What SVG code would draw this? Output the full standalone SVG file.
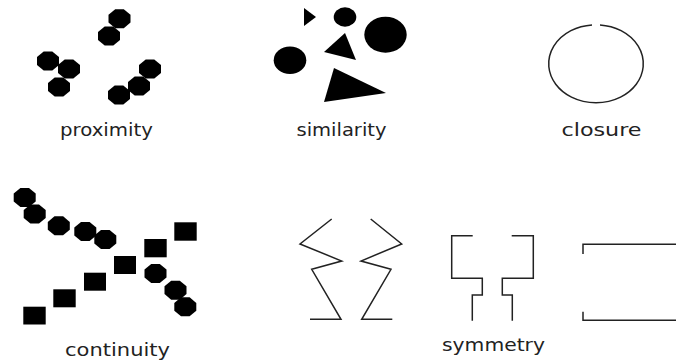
<svg xmlns="http://www.w3.org/2000/svg" xmlns:xlink="http://www.w3.org/1999/xlink" width="676" height="364" viewBox="0 0 676 364">
<style>
.lbl{font-family:"DejaVu Sans","Liberation Sans",sans-serif;font-size:17px;fill:#222;text-anchor:start}
.ln{fill:none;stroke:#222;stroke-width:1.5;stroke-linejoin:miter}
.blk{fill:#000}
</style>
<defs>
<path id="oct" d="M-4.3,-9.5 L4.3,-9.5 L11,-3.9 L11,3.9 L4.3,9.5 L-4.3,9.5 L-11,3.9 L-11,-3.9 Z" fill="#000"/>
</defs>
<rect width="676" height="364" fill="#fff"/>
<g id="proximity">
<use xlink:href="#oct" x="119.5" y="18.7"/>
<use xlink:href="#oct" x="109" y="36"/>
<use xlink:href="#oct" x="48" y="61"/>
<use xlink:href="#oct" x="69" y="69"/>
<use xlink:href="#oct" x="59" y="87"/>
<use xlink:href="#oct" x="150" y="69"/>
<use xlink:href="#oct" x="139" y="86"/>
<use xlink:href="#oct" x="119" y="95"/>
<text class="lbl" x="60" y="136" textLength="93" lengthAdjust="spacingAndGlyphs">proximity</text>
</g>
<g id="similarity">
<polygon class="blk" points="304,8 304,26 316,17"/>
<ellipse class="blk" cx="345" cy="17" rx="11.3" ry="9.7"/>
<ellipse class="blk" cx="385.5" cy="34.7" rx="21.2" ry="18"/>
<polygon class="blk" points="345,33 324,52 356,60"/>
<ellipse class="blk" cx="290" cy="60.3" rx="16.3" ry="13.7"/>
<polygon class="blk" points="334,68 324,102 386,93"/>
<text class="lbl" x="296.5" y="136" textLength="90" lengthAdjust="spacingAndGlyphs">similarity</text>
</g>
<g id="closure">
<path class="ln" d="M600,24.9 A47.3,39 0 1,1 592,24.9" stroke-width="1.3"/>
<text class="lbl" x="561.5" y="136" textLength="80" lengthAdjust="spacingAndGlyphs">closure</text>
</g>
<g id="continuity">
<use xlink:href="#oct" x="24.7" y="197.5"/>
<use xlink:href="#oct" x="34.7" y="214"/>
<use xlink:href="#oct" x="58.8" y="225.8"/>
<use xlink:href="#oct" x="85.3" y="231.5"/>
<use xlink:href="#oct" x="105.3" y="239.5"/>
<use xlink:href="#oct" x="155.5" y="273.5"/>
<use xlink:href="#oct" x="175.5" y="290.2"/>
<use xlink:href="#oct" x="185.3" y="306.8"/>
<rect class="blk" x="23.3" y="306.7" width="22.4" height="17.8"/>
<rect class="blk" x="53.3" y="289.3" width="22.4" height="18"/>
<rect class="blk" x="84" y="272.7" width="22" height="18"/>
<rect class="blk" x="114" y="256" width="22" height="18"/>
<rect class="blk" x="144.3" y="239" width="22.4" height="18.3"/>
<rect class="blk" x="174.3" y="222.3" width="22.4" height="18.4"/>
<text class="lbl" x="65" y="355.5" textLength="105" lengthAdjust="spacingAndGlyphs">continuity</text>
</g>
<g id="symmetry">
<polyline class="ln" points="331.7,219 300,244 341.7,261 311.7,269.3 341,319.3 310,319.3"/>
<polyline class="ln" points="370.7,219 401.7,244 361,261 391,269.3 361.7,319.3 392.3,319.3"/>
<polyline class="ln" points="472.7,235.7 451.7,235.7 451.7,278.3 482.3,278.3 482.3,295 472.3,295 472.3,320.7"/>
<polyline class="ln" points="511.7,235.7 533.3,235.7 533.3,278.3 502.3,278.3 502.3,295 512.3,295 512.3,320.7"/>
<polyline class="ln" points="583,254 583,244.3 676,244.3"/>
<polyline class="ln" points="583,311.7 583,320.3 676,320.3"/>
<text class="lbl" x="442" y="350.5" textLength="103" lengthAdjust="spacingAndGlyphs">symmetry</text>
</g>
</svg>
